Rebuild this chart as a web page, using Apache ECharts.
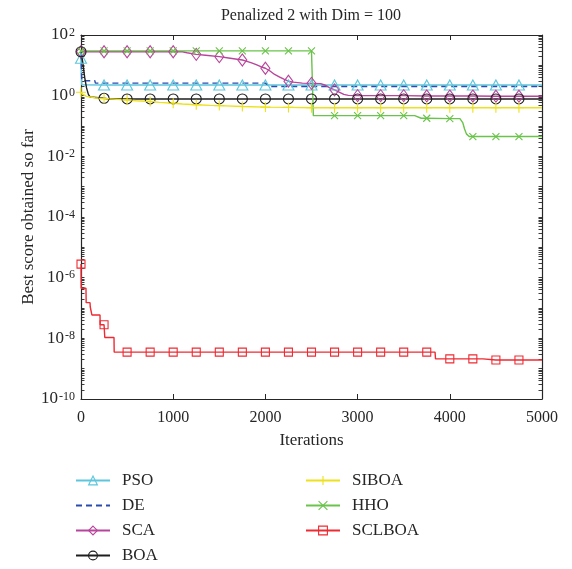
<!DOCTYPE html>
<html><head><meta charset="utf-8">
<script src="https://cdn.jsdelivr.net/npm/echarts@6/dist/echarts.min.js"></script>
<style>html,body{margin:0;padding:0;background:#fff}#c{width:572px;height:569px}</style>
</head><body><div id="c"></div>
<script>
// ---------- data ----------
const titleText = 'Penalized 2 with Dim = 100';
const xTitle = 'Iterations';
const yTitle = 'Best score obtained so far';
const xTicks = [0, 1000, 2000, 3000, 4000, 5000];
const yLabelValues = [1e-10, 1e-8, 1e-6, 1e-4, 1e-2, 1e0, 1e2];
const markerEvery = 250;

// [iteration, best score]
const PSO = [[0,17],[8,2.3],[250,2.25],[500,2.25],[750,2.25],[1000,2.25],[1250,2.25],[1500,2.25],[1750,2.25],[2000,2.25],[2250,2.25],[2500,2.25],[2750,2.25],[3000,2.25],[3250,2.25],[3500,2.25],[3750,2.25],[4000,2.25],[4250,2.25],[4500,2.25],[4750,2.25],[5000,2.25]];
const DE = [[0,25],[8,3.1],[150,3.1],[156,2.6],[2000,2.6],[2050,2.0],[5000,2.0]];
const SCA = [[0,28],[250,28],[500,28],[750,28],[1000,28],[1100,28],[1150,26],[1250,23],[1350,21.5],[1500,19.3],[1600,17.5],[1750,15],[1800,13.5],[1850,12],[1900,10.5],[1950,9],[2000,8],[2050,6.5],[2100,5],[2150,4.2],[2200,3.5],[2250,3.0],[2300,2.8],[2400,2.6],[2500,2.55],[2600,2.5],[2650,2.2],[2700,1.8],[2750,1.55],[2800,1.3],[2850,1.1],[2900,1.02],[3000,1.0],[3250,1.0],[3500,1.0],[3750,0.98],[4000,0.97],[4250,0.97],[4500,0.96],[4750,0.96],[5000,0.96]];
const BOA = [[0,28],[20,12],[40,4],[60,1.8],[80,1.1],[100,0.9],[250,0.82],[300,0.78],[500,0.78],[750,0.78],[1000,0.78],[1250,0.78],[1500,0.78],[1750,0.78],[2000,0.78],[2250,0.78],[2500,0.78],[2750,0.78],[3000,0.78],[3250,0.78],[3500,0.78],[3750,0.78],[4000,0.78],[4250,0.78],[4500,0.78],[4750,0.78],[5000,0.78]];
const SIBOA = [[0,1.3],[20,1.1],[60,0.95],[150,0.85],[250,0.8],[350,0.77],[500,0.72],[600,0.68],[750,0.64],[850,0.6],[1000,0.56],[1100,0.53],[1250,0.5],[1400,0.48],[1500,0.47],[1750,0.44],[2000,0.42],[2250,0.41],[2500,0.4],[2750,0.4],[3000,0.4],[3250,0.4],[3500,0.4],[3750,0.4],[4000,0.4],[4250,0.4],[4500,0.4],[4750,0.4],[5000,0.4]];
const HHO = [[0,30],[250,30],[500,30],[750,30],[1000,30],[1250,30],[1500,30],[1750,30],[2000,30],[2250,30],[2500,30],[2515,30],[2520,0.22],[2750,0.22],[3000,0.22],[3250,0.22],[3500,0.22],[3620,0.22],[3690,0.18],[3750,0.18],[4000,0.175],[4110,0.175],[4140,0.13],[4160,0.08],[4180,0.055],[4210,0.045],[4250,0.045],[4500,0.045],[4750,0.045],[5000,0.045]];
const SCLBOA = [[0,2.8e-6],[2,4.5e-7],[54,4.5e-7],[56,1.5e-7],[98,1.5e-7],[100,1.1e-7],[116,1.1e-7],[118,5.9e-8],[206,5.9e-8],[208,2.8e-8],[250,2.8e-8],[256,2.8e-8],[258,1.07e-8],[358,1.07e-8],[360,3.5e-9],[500,3.5e-9],[750,3.5e-9],[1000,3.5e-9],[1250,3.5e-9],[1500,3.5e-9],[1750,3.5e-9],[2000,3.5e-9],[2250,3.5e-9],[2500,3.5e-9],[2750,3.5e-9],[3000,3.5e-9],[3250,3.5e-9],[3500,3.5e-9],[3750,3.5e-9],[3840,3.5e-9],[3845,2.1e-9],[4000,2.1e-9],[4250,2.1e-9],[4360,2.1e-9],[4365,1.93e-9],[4500,1.93e-9],[4750,1.93e-9],[5000,1.93e-9]];

// ---------- styling ----------
const FONT = "'Liberation Serif','DejaVu Serif',serif";
const AX = '#262626';
const styles = {
  PSO:    {data: PSO,    color:'#5CC6DD', symbol:'triangle', size:[11,10]},
  DE:     {data: DE,     color:'#2C4BAE', symbol:'none', size:0, dash:[6,4]},
  SCA:    {data: SCA,    color:'#B8449B', symbol:'diamond', size:[9,12]},
  BOA:    {data: BOA,    color:'#1E1E1E', symbol:'circle', size:10},
  SIBOA:  {data: SIBOA,  color:'#EDE11A', symbol:'path://M5,0L5,10M0,5L10,5', size:10},
  HHO:    {data: HHO,    color:'#6AC34A', symbol:'path://M0,0L10,10M0,10L10,0', size:7},
  SCLBOA: {data: SCLBOA, color:'#EE2A32', symbol:'rect', size:8}
};
const order = ['PSO','DE','SCA','BOA','SIBOA','HHO','SCLBOA'];

const series = order.map(name => {
  const s = styles[name];
  return {
    name, type:'line', xAxisIndex:0, yAxisIndex:0,
    symbol: s.symbol, symbolSize: s.size, showAllSymbol:true,
    data: s.data.map(p => (p[0] % markerEvery === 0 && p[0] < 5000) ? {value:p} : {value:p, symbol:'none'}),
    lineStyle:{color:s.color, width:1.4, type: s.dash || 'solid'},
    itemStyle:{color:'rgba(0,0,0,0)', borderColor: s.symbol==='none' ? 'rgba(0,0,0,0)' : s.color, borderWidth: s.symbol==='none'?0:1.1},
    emphasis:{disabled:true}, silent:true, animation:false
  };
});

// log-axis tick positions (1..9 × 10^n)
const tickVals = [];
for (let e = -10; e < 2; e++) for (let k = 1; k <= 9; k++) tickVals.push(k * Math.pow(10, e));
tickVals.push(100);

function yAx(pos, opts) {
  return Object.assign({
    type:'log', logBase:10, min:1e-10, max:1e2, position:pos,
    axisLine:{show:true, onZero:false, lineStyle:{color:AX, width:1.2}},
    splitLine:{show:false}, minorTick:{show:false},
    axisLabel:{show:false},
    axisTick:{show:true, inside:true, length:3.5, lineStyle:{color:AX, width:0.9}, customValues: tickVals}
  }, opts);
}

const option = {
  animation:false,
  backgroundColor:'#fff',
  grid:{left:81, right:30, top:35, bottom:170, outerBoundsMode:'none', containLabel:false},
  graphic:[{type:'text', x:311, y:16, style:{text:titleText, font:`16px ${FONT}`, fill:AX, align:'center', verticalAlign:'middle'}}],
  xAxis:[
    {type:'value', min:0, max:5000, interval:1000, position:'bottom',
     name:xTitle, nameLocation:'middle', nameGap:33, nameMoveOverlap:false, nameTextStyle:{fontFamily:FONT, fontSize:17, color:AX},
     axisLine:{show:true, onZero:false, lineStyle:{color:AX, width:1.2}},
     axisTick:{inside:true, length:5, lineStyle:{color:AX}}, splitLine:{show:false},
     axisLabel:{margin:11, fontFamily:FONT, fontSize:16, color:AX, customValues:xTicks, formatter: v => String(v)}},
    {type:'value', min:0, max:5000, interval:1000, position:'top',
     axisLine:{show:true, onZero:false, lineStyle:{color:AX, width:1.2}},
     axisTick:{inside:true, length:5, lineStyle:{color:AX}}, splitLine:{show:false}, axisLabel:{show:false}}
  ],
  yAxis:[
    yAx('left', {
      name:yTitle, nameLocation:'middle', nameGap:44, nameRotate:90, nameMoveOverlap:false,
      nameTextStyle:{fontFamily:FONT, fontSize:17, color:AX},
      axisLabel:{show:true, margin:6, customValues:yLabelValues, color:AX,
        formatter: v => `{b|10}{s|${Math.round(Math.log10(v))}}`,
        rich:{ b:{fontFamily:FONT, fontSize:17, lineHeight:17, color:AX, verticalAlign:'bottom'},
               s:{fontFamily:FONT, fontSize:12, lineHeight:12, color:AX, verticalAlign:'top', padding:[0,0,9,1]} }}
    }),
    yAx('right', {})
  ],
  legend:[
    {data:['PSO','DE','SCA','BOA'], orient:'vertical', left:75, top:472, itemWidth:34, itemHeight:11, itemGap:8,
     selectedMode:false, padding:0, itemStyle:{borderWidth:1.1},
     textStyle:{fontFamily:FONT, fontSize:17, lineHeight:17, color:AX, padding:[0,0,0,7]}},
    {data:['SIBOA','HHO','SCLBOA'], orient:'vertical', left:305, top:472, itemWidth:34, itemHeight:11, itemGap:8,
     selectedMode:false, padding:0, itemStyle:{borderWidth:1.1},
     textStyle:{fontFamily:FONT, fontSize:17, lineHeight:17, color:AX, padding:[0,0,0,7]}}
  ],
  series
};
const chart = echarts.init(document.getElementById('c'), null, {renderer:'canvas'});
chart.setOption(option);
</script></body></html>
